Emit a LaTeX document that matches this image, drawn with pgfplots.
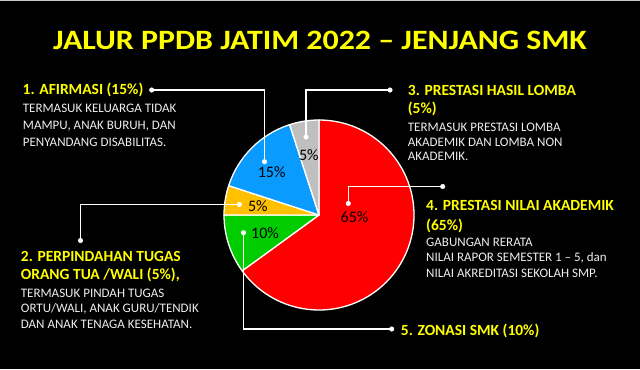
\documentclass[border=0pt]{standalone}
\usepackage{pgfplots}
\usepackage{pgfplotstable}
\usepackage{fontspec}
\setmainfont{Carlito}
\pgfplotsset{compat=1.18}
\definecolor{cRed}{RGB}{255,0,0}
\definecolor{cGreen}{RGB}{0,204,0}
\definecolor{cYellow}{RGB}{255,192,0}
\definecolor{cBlue}{RGB}{10,155,255}
\definecolor{cGray}{RGB}{191,191,191}
\definecolor{hYel}{RGB}{255,255,0}
\definecolor{bTxt}{RGB}{238,238,238}
\newcommand\titlefont{\fontsize{28bp}{30bp}\selectfont\bfseries}
\newcommand\headfont{\fontsize{15.5bp}{18bp}\selectfont\bfseries}
\newcommand\bodyfont{\fontsize{13bp}{15bp}\selectfont}
\newcommand\pctfont{\fontsize{16bp}{18bp}\selectfont}
\pgfplotstableread{
name value
Prestasi 65
Zonasi 10
Perpindahan 5
Afirmasi 15
Lomba 5
}\piedata
\begin{document}
\begin{tikzpicture}
\begin{axis}[x=1bp, y=1bp, xmin=0, xmax=640, ymin=0, ymax=369,
  y dir=reverse, hide axis, clip=false, scale only axis]
\fill[black] (axis cs:0,0) rectangle (axis cs:640,369);
\fill[black!22] (axis cs:0,0) rectangle (axis cs:640,1.2);
% pie wedges from the data table
\xdef\cum{0}
\foreach \i/\c in {0/cRed,1/cGreen,2/cYellow,3/cBlue,4/cGray}{
  \pgfplotstablegetelem{\i}{value}\of\piedata
  \pgfmathsetmacro\sa{90-3.6*\cum}
  \pgfmathsetmacro\ea{\sa-3.6*\pgfplotsretval}
  \pgfmathsetmacro\newcum{\cum+\pgfplotsretval}
  \xdef\cum{\newcum}
  \edef\wedge{\noexpand\filldraw[fill=\c, draw=white, line width=1.3bp, line join=round] (axis cs:319,215) -- ++(\sa:95bp) arc[start angle=\sa, end angle=\ea, radius=95bp] -- cycle;}
  \wedge
}
% leader lines
\addplot[white, line width=1.3bp, no marks] coordinates {(151.7,90) (264.5,90) (264.5,161.7)};
\addplot[white, line width=1.3bp, no marks] coordinates {(390,90) (306,90) (306,137)};
\addplot[white, line width=1.3bp, no marks] coordinates {(442.7,186.5) (348.3,186.5) (348.3,203.5)};
\addplot[white, line width=1.3bp, no marks] coordinates {(391.7,329) (243.5,329) (243.5,232.7)};
\addplot[white, line width=1.3bp, no marks] coordinates {(80.5,240.5) (80.5,204.5) (239.3,204.5)};
\addplot[only marks, mark=*, mark size=2.3bp, white] coordinates {
(151.7,90) (264.5,161.7) (390,90) (306,137) (442.7,186.5) (348.3,203.5)
(391.7,329) (243.5,232.7) (80.5,240.5) (239.3,204.5)};
% percentage labels
\node[font=\pctfont, text=black] at (axis cs:308.8,154.7) {5\%};
\node[font=\pctfont, text=black] at (axis cs:271.7,172.3) {15\%};
\node[font=\pctfont, text=black] at (axis cs:257.8,205.8) {5\%};
\node[font=\pctfont, text=black] at (axis cs:265,232.8) {10\%};
\node[font=\pctfont, text=black] at (axis cs:354.5,217) {65\%};
% title
\node[anchor=base, text=hYel, font=\titlefont, inner sep=0pt, xscale=1.14, transform shape] at (axis cs:320,49.5) {JALUR PPDB JATIM 2022 – JENJANG SMK};
% block 1
\node[anchor=base west, text=hYel, font=\headfont, inner sep=0pt] at (axis cs:22.5,94.5) {1. AFIRMASI (15\%)};
\node[anchor=base west, text=bTxt, font=\bodyfont, inner sep=0pt] at (axis cs:22.7,112.7) {TERMASUK KELUARGA TIDAK};
\node[anchor=base west, text=bTxt, font=\bodyfont, inner sep=0pt] at (axis cs:22.7,129.3) {MAMPU, ANAK BURUH, DAN};
\node[anchor=base west, text=bTxt, font=\bodyfont, inner sep=0pt] at (axis cs:22.7,146) {PENYANDANG DISABILITAS.};
% block 3
\node[anchor=base west, text=hYel, font=\headfont, inner sep=0pt] at (axis cs:407.7,95) {3. PRESTASI HASIL LOMBA};
\node[anchor=base west, text=hYel, font=\headfont, inner sep=0pt] at (axis cs:407.7,113.3) {(5\%)};
\node[anchor=base west, text=bTxt, font=\bodyfont, inner sep=0pt] at (axis cs:407.7,131.7) {TERMASUK PRESTASI LOMBA};
\node[anchor=base west, text=bTxt, font=\bodyfont, inner sep=0pt] at (axis cs:407.7,146.2) {AKADEMIK DAN LOMBA NON};
\node[anchor=base west, text=bTxt, font=\bodyfont, inner sep=0pt] at (axis cs:407.7,160.7) {AKADEMIK.};
% block 4
\node[anchor=base west, text=hYel, font=\headfont, inner sep=0pt] at (axis cs:426,210) {4. PRESTASI NILAI AKADEMIK};
\node[anchor=base west, text=hYel, font=\headfont, inner sep=0pt] at (axis cs:426,230) {(65\%)};
\node[anchor=base west, text=bTxt, font=\bodyfont, inner sep=0pt] at (axis cs:426,246) {GABUNGAN RERATA};
\node[anchor=base west, text=bTxt, font=\bodyfont, inner sep=0pt] at (axis cs:426,261.7) {NILAI RAPOR SEMESTER 1 – 5, dan};
\node[anchor=base west, text=bTxt, font=\bodyfont, inner sep=0pt] at (axis cs:426,277.3) {NILAI AKREDITASI SEKOLAH SMP.};
% block 5
\node[anchor=base west, text=hYel, font=\headfont, inner sep=0pt] at (axis cs:400.7,335) {5. ZONASI SMK (10\%)};
% block 2
\node[anchor=base west, text=hYel, font=\headfont, inner sep=0pt] at (axis cs:20.7,261.7) {2. PERPINDAHAN TUGAS};
\node[anchor=base west, text=hYel, font=\headfont, inner sep=0pt] at (axis cs:20.7,279) {ORANG TUA /WALI (5\%),};
\node[anchor=base west, text=bTxt, font=\bodyfont, inner sep=0pt] at (axis cs:20.7,297.3) {TERMASUK PINDAH TUGAS};
\node[anchor=base west, text=bTxt, font=\bodyfont, inner sep=0pt] at (axis cs:20.7,312.7) {ORTU/WALI, ANAK GURU/TENDIK};
\node[anchor=base west, text=bTxt, font=\bodyfont, inner sep=0pt] at (axis cs:20.7,328.3) {DAN ANAK TENAGA KESEHATAN.};
\end{axis}
\end{tikzpicture}
\end{document}
